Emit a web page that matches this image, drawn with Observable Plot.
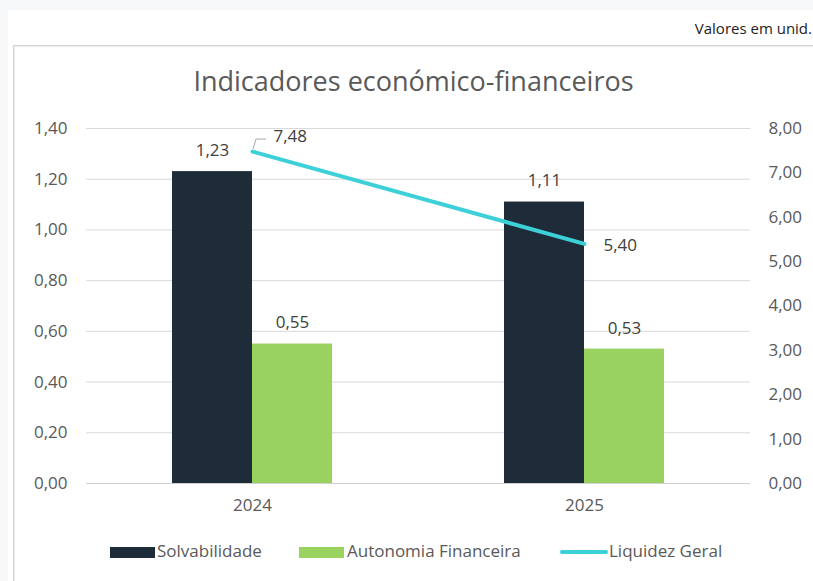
<!DOCTYPE html>
<html>
<head>
<meta charset="utf-8">
<script src="https://cdn.jsdelivr.net/npm/d3@7"></script>
<script src="https://cdn.jsdelivr.net/npm/@observablehq/plot@0.6"></script>
<style>
  html, body { margin: 0; padding: 0; }
  body { width: 813px; height: 581px; overflow: hidden; position: relative; background: #f6f8fa; font-family: "Open Sans", "Noto Sans", sans-serif; }
  #panel { position: absolute; left: 8px; top: 10px; width: 805px; height: 571px; background: #fff; }
  #unit { position: absolute; right: 1px; top: 18px; font-size: 15px; color: #222; white-space: nowrap; }
  #box { position: absolute; left: 13px; top: 45px; width: 830px; height: 560px; border: 1px solid #d6d6d6; box-shadow: inset 1px 1px 0 #ececec; }
  #title { position: absolute; left: 0; top: 62px; width: 827px; text-align: center; font-size: 27px; color: #595959; white-space: nowrap; }
  #chart { position: absolute; left: 0; top: 100px; }
  .lg { position: absolute; font-size: 17px; color: #595959; white-space: nowrap; top: 539px; }
  .sw { position: absolute; }
</style>
</head>
<body>
<div id="panel"></div>
<div id="unit">Valores em unid.</div>
<div id="box"></div>
<div id="title">Indicadores económico-financeiros</div>
<div id="chart"></div>
<div class="sw" style="left:110px;top:547px;width:45px;height:11px;background:#1e2b38"></div>
<div class="lg" style="left:157px">Solvabilidade</div>
<div class="sw" style="left:299px;top:547px;width:45px;height:11px;background:#99d25e"></div>
<div class="lg" style="left:347px">Autonomia Financeira</div>
<div class="sw" style="left:560px;top:550px;width:48px;height:4px;border-radius:2px;background:#3dd0d8"></div>
<div class="lg" style="left:609px">Liquidez Geral</div>
<script>
const years = ["2024", "2025"];
const solvabilidade = [1.23, 1.11];
const autonomia = [0.55, 0.53];
const liquidez = [7.48, 5.40];
const leftTicks = [0, 0.2, 0.4, 0.6, 0.8, 1.0, 1.2, 1.4];
const rightTicks = [0, 1, 2, 3, 4, 5, 6, 7, 8];

const k = 1.4 / 8; // secondary axis factor
const fmt = d => d.toFixed(2).replace(".", ",");

const solv = years.map((year, i) => ({year, value: solvabilidade[i]}));
const auto = years.map((year, i) => ({year, value: autonomia[i]}));
const liq = years.map((year, i) => ({year, value: liquidez[i], y: liquidez[i] * k}));

const leader = (index, scales) => {
  const x = scales.x, y = scales.y;
  let bw = 0;
  if (typeof x.bandwidth === "function") bw = x.bandwidth();
  else if (typeof x.bandwidth === "number") bw = x.bandwidth;
  const d = liq[0];
  const cx = x(d.year) + bw / 2, cy = y(d.y);
  const p = document.createElementNS("http://www.w3.org/2000/svg", "path");
  p.setAttribute("d", `M${cx + 1},${cy - 2}L${cx + 4},${cy - 12}L${cx + 14},${cy - 12}`);
  p.setAttribute("fill", "none");
  p.setAttribute("stroke", "#a6a6a6");
  p.setAttribute("stroke-width", "1");
  return p;
};

const chart = Plot.plot({
  width: 813,
  height: 430,
  marginLeft: 86,
  marginRight: 63,
  marginTop: 28,
  marginBottom: 47,
  style: {fontFamily: "'Open Sans', 'Noto Sans', sans-serif", fontSize: "17px", color: "#595959", background: "transparent"},
  x: {domain: years, padding: 0, axis: null},
  y: {domain: [0, 1.4], axis: null},
  marks: [
    Plot.gridY(leftTicks, {stroke: "#d9d9d9", strokeOpacity: 1}),
    Plot.axisY(leftTicks, {anchor: "left", tickSize: 0, tickPadding: 19, tickFormat: fmt, fill: "#595959", fontSize: 17, label: null}),
    Plot.axisY(rightTicks.map(v => v * k), {anchor: "right", tickSize: 0, tickPadding: 18, tickFormat: d => fmt(d / k), fill: "#595959", fontSize: 17, label: null}),
    Plot.axisX(years, {tickSize: 0, tickPadding: 15, fill: "#595959", fontSize: 17, label: null}),
    Plot.barY(solv, {x: "year", y: "value", fill: "#1e2b38", insetLeft: 86, insetRight: 166}),
    Plot.barY(auto, {x: "year", y: "value", fill: "#99d25e", insetLeft: 166, insetRight: 86}),
    Plot.ruleY([0], {stroke: "#d0d0d0"}),
    Plot.line(liq, {x: "year", y: "y", stroke: "#3dd0d8", strokeWidth: 4, strokeLinecap: "round"}),
    Plot.text(solv, {x: "year", y: "value", text: d => fmt(d.value), dx: -40, dy: -21, fill: "#404040", fontSize: 17}),
    Plot.text(auto, {x: "year", y: "value", text: d => fmt(d.value), dx: 40, dy: -21, fill: "#404040", fontSize: 17}),
    Plot.text(liq.slice(0, 1), {x: "year", y: "y", text: d => fmt(d.value), dx: 21, dy: -15, textAnchor: "start", fill: "#404040", fontSize: 17}),
    Plot.text(liq.slice(1), {x: "year", y: "y", text: d => fmt(d.value), dx: 19, dy: 2, textAnchor: "start", fill: "#404040", fontSize: 17}),
    leader
  ]
});
document.getElementById("chart").appendChild(chart);
</script>
</body>
</html>
